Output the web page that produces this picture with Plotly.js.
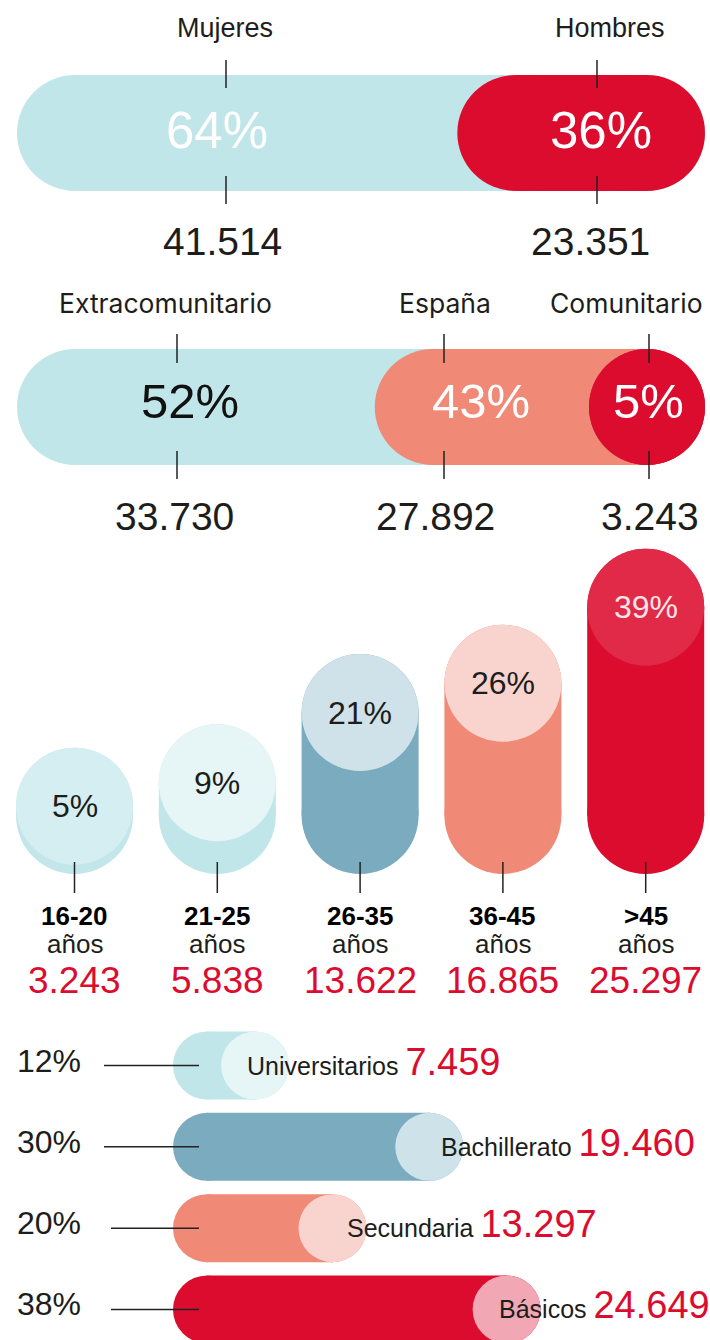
<!DOCTYPE html>
<html><head><meta charset="utf-8">
<script src="https://cdn.plot.ly/plotly-3.0.1.min.js"></script>
<style>html,body{margin:0;padding:0;background:#fff;overflow:hidden}#chart{width:710px;height:1340px}</style>
</head><body><div id="chart"></div>
<script>
// ---------------- DATA ----------------
const genderLabels = ['Mujeres', 'Hombres'];
const genderCounts = [41514, 23351];
const genderPct = [64, 36];

const originLabels = ['Extracomunitario', 'España', 'Comunitario'];
const originCounts = [33730, 27892, 3243];
const originPct = [52, 43, 5];

const ageLabels = ['16-20', '21-25', '26-35', '36-45', '>45'];
const ageUnit = 'años';
const ageCounts = [3243, 5838, 13622, 16865, 25297];
const agePct = [5, 9, 21, 26, 39];

const eduLabels = ['Universitarios', 'Bachillerato', 'Secundaria', 'Básicos'];
const eduCounts = [7459, 19460, 13297, 24649];
const eduPct = [12, 30, 20, 38];

// ---------------- STYLE ----------------
const W = 710, H = 1340;
const fx = px => px / W;
const fy = py => 1 - py / H;
const NUM = 'Liberation Sans, Arial, sans-serif';
const WIDE = 'Inter, sans-serif';
const INK = '#1d1d1b';
const RED = '#dc0c2f';

const genderColors = ['#c1e6e9', RED];
const genderPctColors = ['#ffffff', '#ffffff'];
const genderTickPx = [226, 597];
const genderLabelPx = [225, 610];
const genderPctPx = [217, 601];
const genderCountPx = [222, 590];

const originColors = ['#c1e6e9', '#f08976', RED];
const originPctColors = ['#111111', '#ffffff', '#ffffff'];
const originTickPx = [177, 444, 649];
const originLabelPx = [165, 445, 626];
const originPctPx = [190, 481, 648];
const originCountPx = [174, 436, 650];

const ageColors = ['#c3e6ea', '#c1e6e9', '#7aabbf', '#f08976', RED];
const ageTopColors = ['#d5eef1', '#e6f5f6', '#cfe2e9', '#f9d4ce', '#e12a48'];
const agePctColors = [INK, INK, INK, INK, '#fbe6ea'];

const eduColors = ['#c1e6e9', '#7aabbf', '#f08976', RED];
const eduTopColors = ['#e6f5f6', '#cee2ea', '#f9d4ce', '#f2a8b4'];
const eduLabelPx = [247, 441, 347, 499];
const eduLineStartPx = [104, 104, 111, 111];

const fmt = n => String(n).replace(/\B(?=(\d{3})+(?!\d))/g, '.');

// axis helper: map px->value linear; returns range for a pixel band
function rangeFor(px0, v0, ppu, pxA, pxB) { return [v0 + (pxA - px0) / ppu, v0 + (pxB - px0) / ppu]; }

const traces = [];
const shapes = [];
const annotations = [];

function hPill(xa, ya, a, b, row, r, color, thick) {
  let c0 = a + r, c1 = b - r;
  if (c0 > c1) c0 = c1;
  traces.push({type: 'scatter', mode: 'lines+markers', xaxis: xa, yaxis: ya,
    x: [c0, c1], y: [row, row], line: {color: color, width: thick},
    marker: {color: color, size: thick, line: {width: 0}}, hoverinfo: 'skip', cliponaxis: false});
}
function vPill(xa, ya, col, lo, hi, r, color, thick) {
  let c0 = lo + r, c1 = hi - r;
  if (c0 > c1) c0 = c1;
  traces.push({type: 'scatter', mode: 'lines+markers', xaxis: xa, yaxis: ya,
    x: [col, col], y: [c0, c1], line: {color: color, width: thick},
    marker: {color: color, size: thick, line: {width: 0}}, hoverinfo: 'skip', cliponaxis: false});
}
function dot(xa, ya, x, y, color, size) {
  traces.push({type: 'scatter', mode: 'markers', xaxis: xa, yaxis: ya, x: [x], y: [y],
    marker: {color: color, size: size, line: {width: 0}}, hoverinfo: 'skip', cliponaxis: false});
}
function txt(text, x, y, size, color, family, opts) {
  return Object.assign({xref: 'paper', yref: 'paper', x: x, y: y, text: text, showarrow: false,
    xanchor: 'center', yanchor: 'middle', borderpad: 0, borderwidth: 0,
    font: {size: size, color: color, family: family}}, opts || {});
}
function vline(xref, x, py0, py1) {
  shapes.push({type: 'line', xref: xref, yref: 'paper', x0: x, x1: x, y0: fy(py0), y1: fy(py1),
    line: {color: '#222', width: 1.5}});
}

// ---------------- SECTION 1 & 2 (stacked pills) ----------------
const ppuTop = 6.88;               // px per percent
const xTopRange = rangeFor(17, 0, ppuTop, 0, W);
const rTop = 58 / ppuTop;          // cap radius in percent units

function stackedPills(xa, ya, pct, colors) {
  const total = pct.reduce((s, v) => s + v, 0);
  let cum = 0;
  pct.forEach((v, i) => { hPill(xa, ya, cum, total, 0, rTop, colors[i], 116); cum += v; });
}
stackedPills('x', 'y', genderPct, genderColors);
stackedPills('x2', 'y2', originPct, originColors);

genderLabels.forEach((lab, i) => {
  annotations.push(txt(lab, fx(genderLabelPx[i]), fy(28), 27, INK, NUM));
  annotations.push(txt(genderPct[i] + '%', fx(genderPctPx[i]), fy(131), 51, genderPctColors[i], NUM));
  annotations.push(txt(fmt(genderCounts[i]), fx(genderCountPx[i]), fy(241), 39, INK, NUM));
  vline('paper', fx(genderTickPx[i]), 60, 88);
  vline('paper', fx(genderTickPx[i]), 176, 204);
});
originLabels.forEach((lab, i) => {
  annotations.push(txt(lab, fx(originLabelPx[i]), fy(303), 26.5, INK, WIDE));
  annotations.push(txt(originPct[i] + '%', fx(originPctPx[i]), fy(401), 49, originPctColors[i], NUM));
  annotations.push(txt(fmt(originCounts[i]), fx(originCountPx[i]), fy(516), 39, INK, NUM));
  vline('paper', fx(originTickPx[i]), 334, 363);
  vline('paper', fx(originTickPx[i]), 451, 479);
});

// ---------------- SECTION 3 (age columns) ----------------
const colPx0 = 74.5, colPpu = 142.8;
const x3Range = rangeFor(colPx0, 0, colPpu, 0, W);
const agePx0 = 835.4, agePpu = -5.85;  // value 0 at px 835.4, up is positive
const y3Range = rangeFor(agePx0, 0, agePpu, 1000, 540);
const rAge = 58.5 / 5.85;
const ageBottom = (874 - agePx0) / agePpu;
agePct.forEach((v, i) => {
  vPill('x3', 'y3', i, ageBottom, v + rAge, rAge, ageColors[i], 117);
  dot('x3', 'y3', i, v, ageTopColors[i], 117);
  annotations.push({xref: 'x3', yref: 'y3', x: i, y: v, text: v + '%', showarrow: false,
    xanchor: 'center', yanchor: 'middle', borderpad: 0, font: {size: 32, color: agePctColors[i], family: NUM}});
  annotations.push(txt('<b>' + ageLabels[i] + '</b>', 0, fy(916), 26, '#000', NUM, {xref: 'x3', x: i}));
  annotations.push(txt(ageUnit, 0, fy(944), 26, INK, NUM, {xref: 'x3', x: i}));
  annotations.push(txt(fmt(ageCounts[i]), 0, fy(980), 37, RED, NUM, {xref: 'x3', x: i}));
  vline('x3', i, 862, 893);
});

// ---------------- SECTION 4 (education bars) ----------------
const eduPx0 = 173, eduPpu = 9.674;
const x4Range = rangeFor(eduPx0, 0, eduPpu, 0, W);
const rowPx0 = 1065.5, rowPpu = 81.33;
const y4Range = rangeFor(rowPx0, 0, rowPpu, 1340, 1020);
const rEdu = 34 / eduPpu;
eduPct.forEach((v, i) => {
  hPill('x4', 'y4', 0, v, i, rEdu, eduColors[i], 68);
  dot('x4', 'y4', v - rEdu, i, eduTopColors[i], 68);
  const rowPy = rowPx0 + i * rowPpu;
  annotations.push(txt(v + '%', fx(17), fy(rowPy - 5), 32, INK, NUM, {xanchor: 'left'}));
  annotations.push(txt(eduLabels[i] + ' <span style="color:' + RED + ';font-size:38px">' + fmt(eduCounts[i]) + '</span>',
    fx(eduLabelPx[i]), fy(rowPy - 4), 25, INK, NUM, {xanchor: 'left'}));
  shapes.push({type: 'line', xref: 'paper', yref: 'paper', x0: fx(eduLineStartPx[i]), x1: fx(199),
    y0: fy(rowPy), y1: fy(rowPy), line: {color: '#222', width: 1.5}});
});

// ---------------- LAYOUT ----------------
function rowRange(c, pTop, pBot) { return rangeFor(c, 0, 100, pBot, pTop); }
const ax = (domain, range, anchor) => ({domain: domain, range: range, anchor: anchor, visible: false, fixedrange: true});
const layout = {
  width: W, height: H, margin: {l: 0, r: 0, t: 0, b: 0},
  paper_bgcolor: '#ffffff', plot_bgcolor: 'rgba(0,0,0,0)', showlegend: false,
  xaxis: ax([0, 1], xTopRange, 'y'),
  yaxis: ax([fy(210), fy(55)], rowRange(133, 55, 210), 'x'),
  xaxis2: ax([0, 1], xTopRange, 'y2'),
  yaxis2: ax([fy(485), fy(330)], rowRange(407, 330, 485), 'x2'),
  xaxis3: ax([0, 1], x3Range, 'y3'),
  yaxis3: ax([fy(1000), fy(540)], y3Range, 'x3'),
  xaxis4: ax([0, 1], x4Range, 'y4'),
  yaxis4: ax([fy(1340), fy(1020)], y4Range, 'x4'),
  shapes: shapes, annotations: annotations
};
Plotly.newPlot('chart', traces, layout, {staticPlot: true, displayModeBar: false});
</script></body></html>
